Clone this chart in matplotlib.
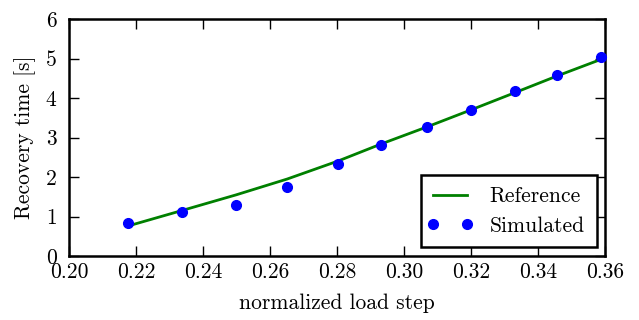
import matplotlib
matplotlib.use("Agg")
import matplotlib.pyplot as plt
from matplotlib.legend_handler import HandlerLine2D

plt.rcParams['font.family'] = 'serif'
plt.rcParams['font.serif'] = ['cmr10']
plt.rcParams['axes.formatter.use_mathtext'] = True
plt.rcParams['mathtext.fontset'] = 'cm'

load_step = [0.2176, 0.2336, 0.2499, 0.2651, 0.2804, 0.2932, 0.3068, 0.3199, 0.3331, 0.3456, 0.3587]
reference = [0.76, 1.15, 1.55, 1.95, 2.41, 2.84, 3.27, 3.70, 4.14, 4.56, 4.98]
simulated = [0.845, 1.107, 1.30, 1.75, 2.34, 2.81, 3.27, 3.69, 4.17, 4.58, 5.04]
xticks = [0.20, 0.22, 0.24, 0.26, 0.28, 0.30, 0.32, 0.34, 0.36]
yticks = [0, 1, 2, 3, 4, 5, 6]

fs = 15.5
fig = plt.figure(figsize=(6.39, 3.2), dpi=100)
ax = fig.add_axes([0.108, 0.2, 0.839, 0.74])
l1, = ax.plot(load_step, reference, color=(0, 0.5, 0), lw=2, label='Reference')
l2, = ax.plot(load_step, simulated, 'o', color='blue', mec='blue', ms=7, label='Simulated', clip_on=False, zorder=5)
ax.set_xlim(0.20, 0.36)
ax.set_ylim(0, 6)
ax.set_xticks(xticks)
ax.set_xticklabels(['%.2f' % t for t in xticks])
ax.set_yticks(yticks)
ax.set_yticklabels([str(t) for t in yticks])
ax.tick_params(direction='in', length=7, width=1, top=True, right=True, labelsize=fs)
ax.tick_params(axis='x', pad=5)
ax.tick_params(axis='y', pad=9)
for s in ax.spines.values():
    s.set_linewidth(1.8)
ax.set_xlabel('normalized load step', fontsize=fs, labelpad=8)
ax.set_ylabel('Recovery time [s]', fontsize=fs, labelpad=7)
leg = ax.legend(loc='lower right', numpoints=2, fontsize=fs, fancybox=False, framealpha=1,
                edgecolor='black', borderaxespad=0.4, handlelength=1.6, borderpad=0.55,
                labelspacing=0.45, handletextpad=1.05,
                handler_map={l1: HandlerLine2D(marker_pad=0), l2: HandlerLine2D(marker_pad=0)})
leg.get_frame().set_linewidth(1.8)
fig.savefig('out.png', dpi=100)
